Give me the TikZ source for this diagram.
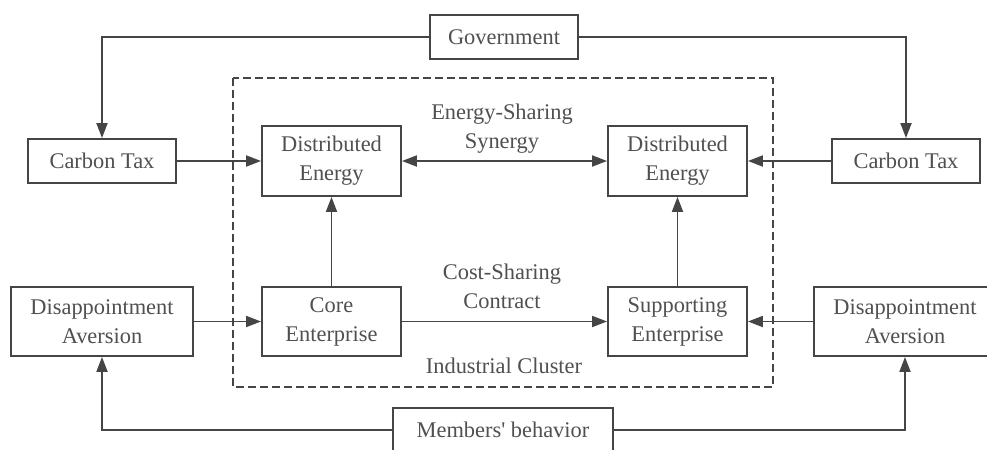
\documentclass[tikz,border=0pt]{standalone}
\usepackage{fontspec}
\setmainfont{Liberation Serif}
\newfontfamily\plainserif{Liberation Serif}
\usetikzlibrary{arrows.meta}
\definecolor{linec}{HTML}{454545}
\definecolor{textc}{HTML}{505050}
\begin{document}
\begin{tikzpicture}[x=0.5pt,y=-0.5pt,
  box/.style={draw=linec, line width=0.95pt, fill=white, align=center, inner sep=0pt,
    text=textc, font=\fontsize{11.2pt}{14.5pt}\selectfont},
  lbl/.style={align=center, text=textc, font=\fontsize{11.2pt}{14.5pt}\selectfont},
  conn/.style={draw=linec, line width=0.95pt, -{Triangle[length=7.5pt,width=5.5pt]}},
  dconn/.style={draw=linec, line width=0.95pt, {Triangle[length=7.5pt,width=5.5pt]}-{Triangle[length=7.5pt,width=5.5pt]}}
]
\useasboundingbox (0,0) rectangle (987,450);
\fill[white] (0,0) rectangle (987,450);

% cluster
\draw[linec, line width=0.9pt, dash pattern=on 4pt off 2pt] (233,78) rectangle (773,387);

\node[box, minimum width=148*0.5pt, minimum height=44*0.5pt] (gov) at (504,37) {Government};
\node[box, minimum width=148*0.5pt, minimum height=44*0.5pt] (ctL) at (102,161) {Carbon Tax};
\node[box, minimum width=148*0.5pt, minimum height=44*0.5pt] (ctR) at (906,161) {Carbon Tax};
\node[box, minimum width=139*0.5pt, minimum height=70*0.5pt] (deL) at (331.5,161) {Distributed\\Energy};
\node[box, minimum width=139*0.5pt, minimum height=70*0.5pt] (deR) at (677.5,161) {Distributed\\Energy};
\node[box, minimum width=182*0.5pt, minimum height=69*0.5pt] (daL) at (102,321.5) {Disappointment\\Aversion};
\node[box, minimum width=139*0.5pt, minimum height=69*0.5pt] (core) at (331.5,321.5) {Core\\Enterprise};
\node[box, minimum width=139*0.5pt, minimum height=69*0.5pt] (sup) at (677.5,321.5) {Supporting\\Enterprise};
\node[box, minimum width=182*0.5pt, minimum height=69*0.5pt] (daR) at (905,321.5) {Disappointment\\Aversion};
\node[box, minimum width=220*0.5pt, minimum height=44*0.5pt] (mem) at (503,430) {{\plainserif Members' behavior}};

\node[lbl] (esl) at (502,129) {Energy-Sharing\\Synergy};
\node[lbl] (csl) at (502,286) {Cost-Sharing\\Contract};
\node[lbl] (icl) at (504,366) {Industrial Cluster};

\draw[conn] (gov.west) -| (ctL.north);
\draw[conn] (gov.east) -| (ctR.north);
\draw[conn] (ctL.east) -- (deL.west);
\draw[conn] (ctR.west) -- (deR.east);
\draw[dconn] (deL.east) -- (deR.west);
\draw[conn] (core.north) -- (deL.south);
\draw[conn] (sup.north) -- (deR.south);
\draw[conn] (daL.east) -- (core.west);
\draw[conn] (daR.west) -- (sup.east);
\draw[conn] (core.east) -- (sup.west);
\draw[conn] (mem.west) -| (daL.south);
\draw[conn] (mem.east) -| (daR.south);
\end{tikzpicture}
\end{document}
